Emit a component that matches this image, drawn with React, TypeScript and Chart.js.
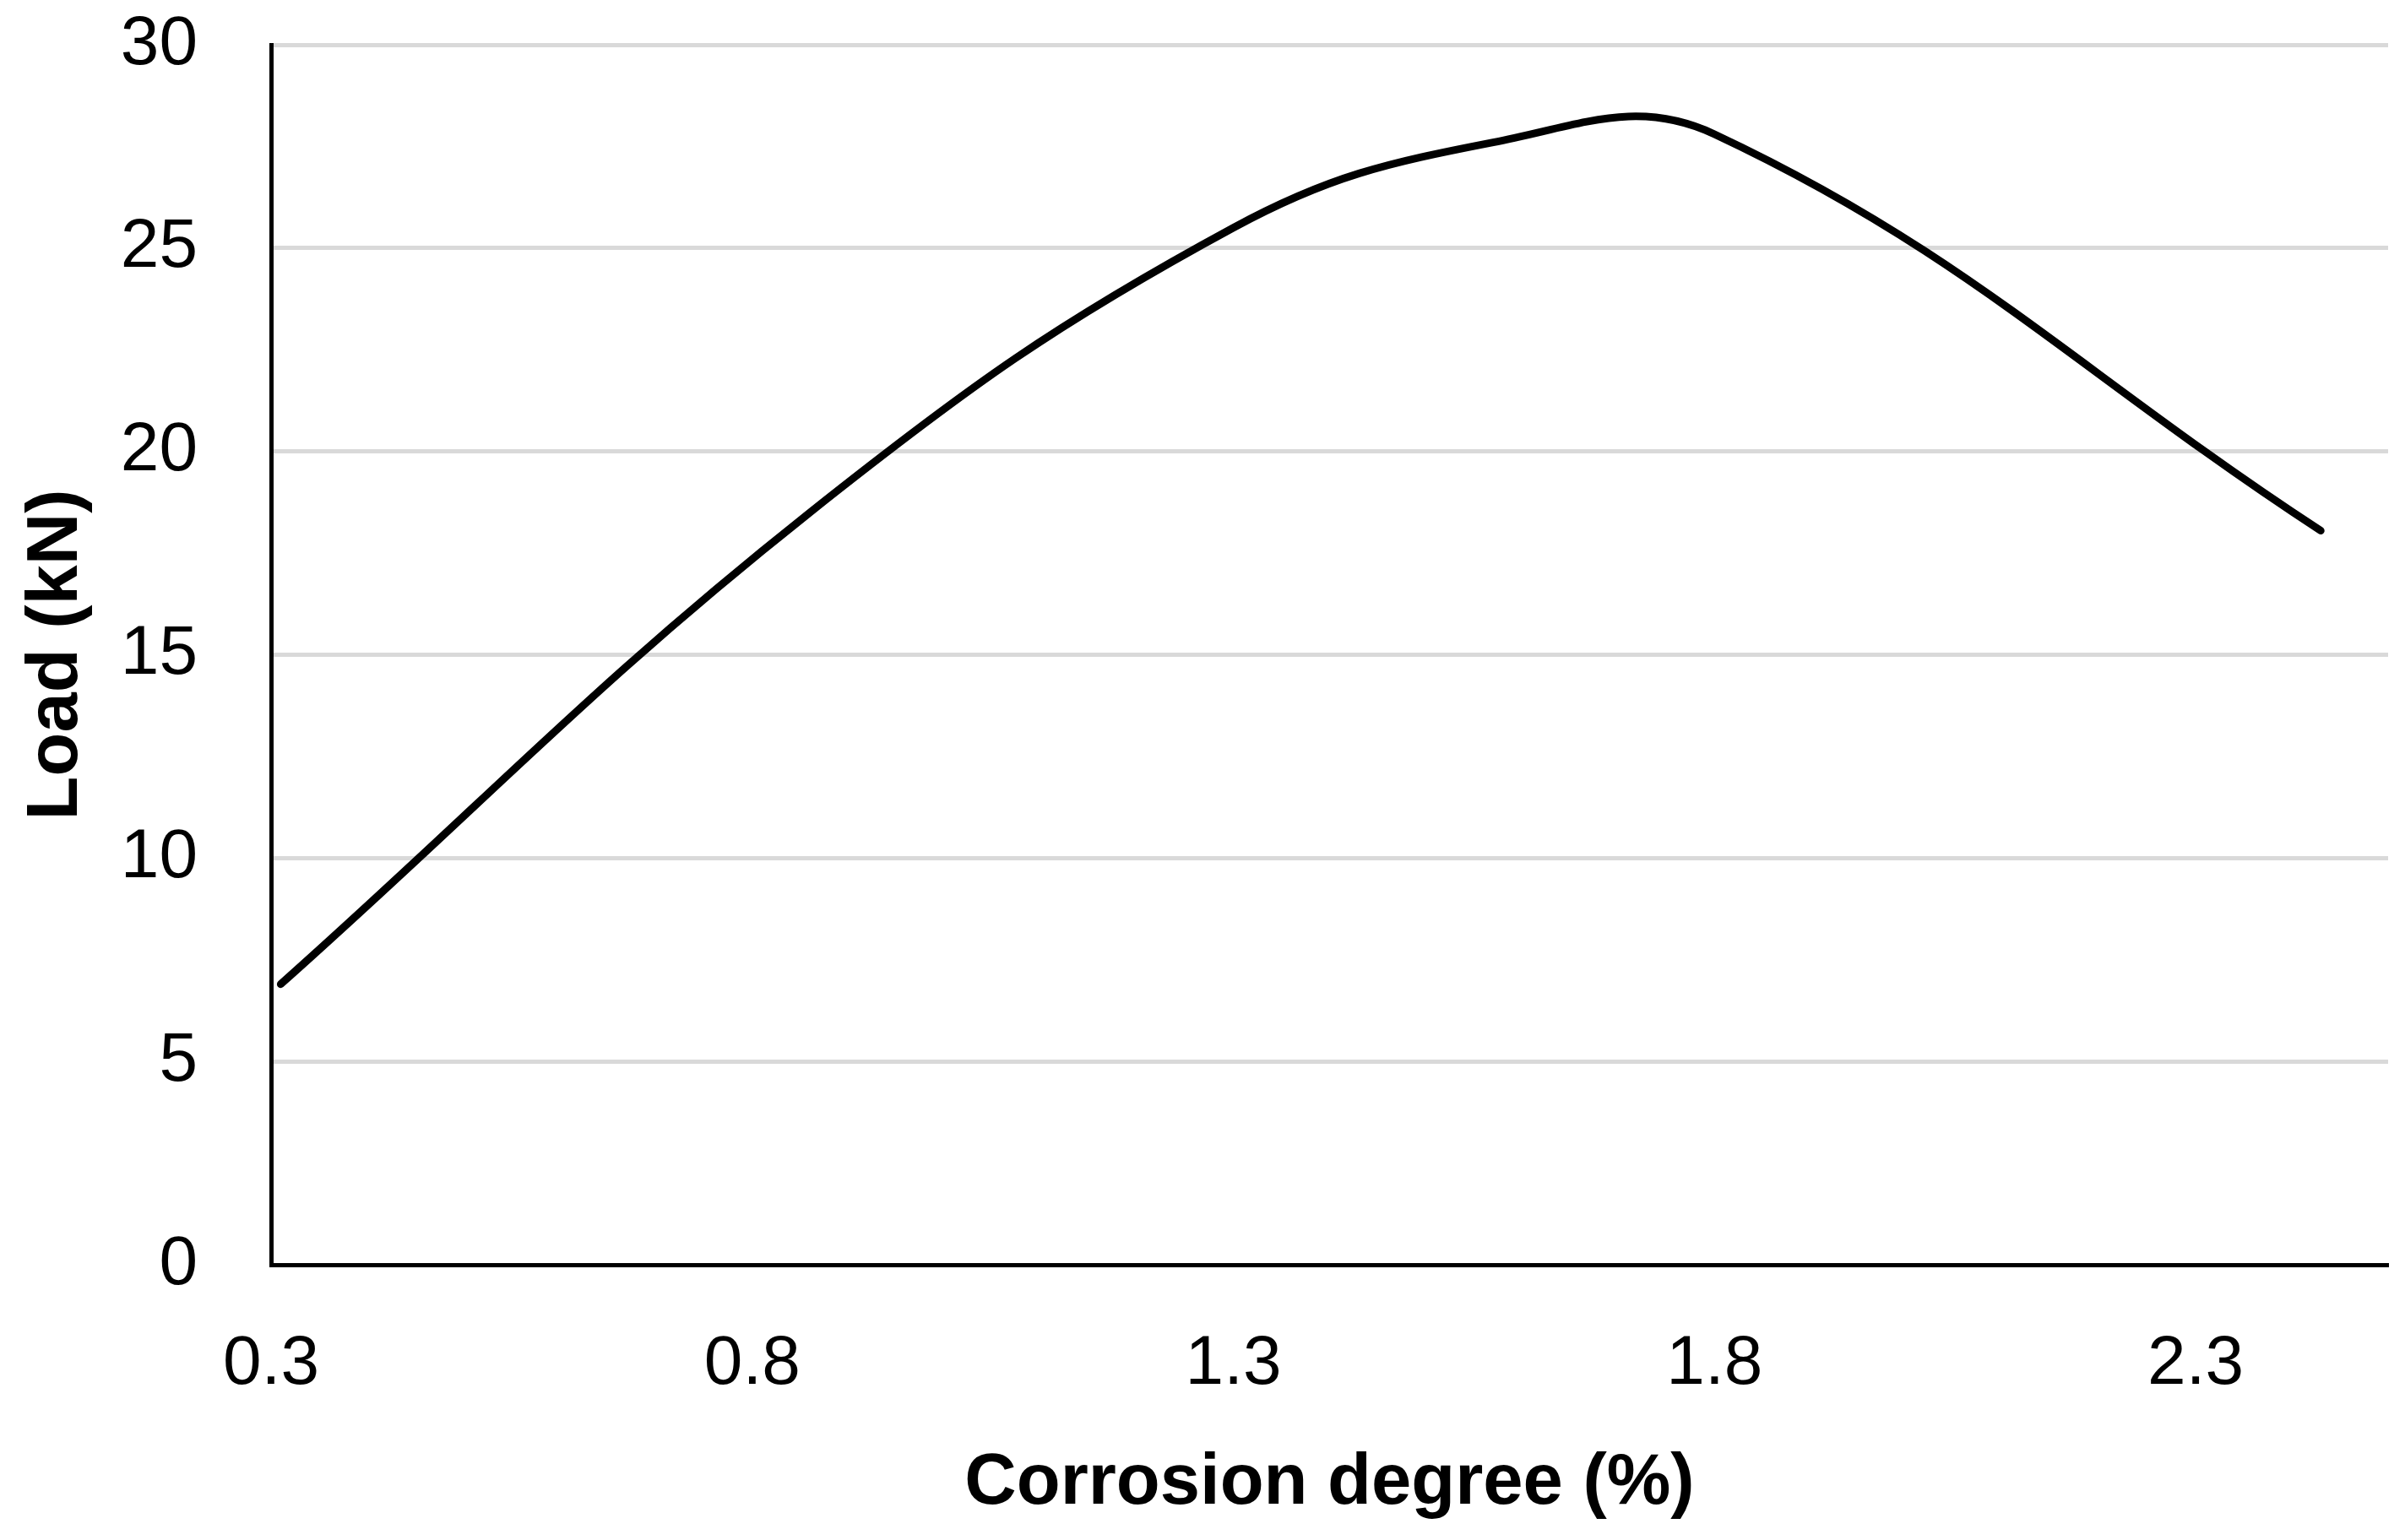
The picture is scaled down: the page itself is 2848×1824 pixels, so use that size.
import React, { useEffect, useRef } from "react";
import { Chart, registerables } from "chart.js";

Chart.register(...registerables);

// Data
const corrosionDegree = [0.31, 0.86, 1.3, 1.57, 1.8, 2.43];
const loadKN = [6.9, 18.5, 25.5, 27.6, 27.8, 18.05];

// Axis ticks and titles
const xTickValues = [0.3, 0.8, 1.3, 1.8, 2.3];
const yTickValues = [0, 5, 10, 15, 20, 25, 30];
const xAxisTitle = "Corrosion degree (%)";
const yAxisTitle = "Load (kN)";

const W = 2848;
const H = 1824;
const FONT = "'Liberation Sans', Arial, Helvetica, sans-serif";

export default function App() {
  const ref = useRef<HTMLCanvasElement>(null);

  useEffect(() => {
    document.body.style.margin = "0";
    const canvas = ref.current;
    if (!canvas) return;
    const chart = new Chart(canvas, {
      type: "line",
      data: {
        datasets: [
          {
            data: corrosionDegree.map((x, i) => ({ x, y: loadKN[i] })),
            borderColor: "#000000",
            backgroundColor: "#000000",
            borderWidth: 9,
            pointRadius: 0,
            tension: 0.4,
            fill: false,
            borderCapStyle: "round",
            borderJoinStyle: "round",
          } as any,
        ],
      },
      options: {
        responsive: false,
        maintainAspectRatio: false,
        animation: false,
        devicePixelRatio: 1,
        layout: { padding: { top: 53, right: 20, left: 0, bottom: 0 } },
        plugins: {
          legend: { display: false },
          tooltip: { enabled: false },
        },
        scales: {
          x: {
            type: "linear",
            min: 0.3,
            max: 2.5,
            afterBuildTicks: (s: any) => {
              s.ticks = xTickValues.map((v) => ({ value: v }));
            },
            afterFit: (s: any) => {
              s.height = 326;
              s.paddingLeft = 0;
              s.paddingRight = 0;
            },
            grid: { display: false, drawTicks: false },
            border: { display: true, color: "#000000", width: 5 },
            ticks: {
              autoSkip: false,
              maxRotation: 0,
              minRotation: 0,
              padding: 69,
              color: "#000000",
              font: { family: FONT, size: 82 },
              callback: (v: any) => Number(v).toFixed(1),
            },
            title: {
              display: true,
              text: xAxisTitle,
              color: "#000000",
              font: { family: FONT, size: 85, weight: "bold" },
              padding: { top: 0, bottom: 15 },
            },
          },
          y: {
            type: "linear",
            min: 0,
            max: 30,
            afterBuildTicks: (s: any) => {
              s.ticks = yTickValues.map((v) => ({ value: v }));
            },
            afterFit: (s: any) => {
              s.width = 321;
              s.paddingTop = 0;
              s.paddingBottom = 0;
            },
            grid: { color: "#d9d9d9", lineWidth: 5, drawTicks: false },
            border: { display: true, color: "#000000", width: 5 },
            ticks: {
              padding: 87,
              color: "#000000",
              font: { family: FONT, size: 82 },
              callback: (v: any) => String(v),
            },
            title: {
              display: true,
              text: yAxisTitle,
              color: "#000000",
              font: { family: FONT, size: 85, weight: "bold" },
              padding: { top: 17, bottom: 0 },
            },
          },
        },
      } as any,
    });
    return () => chart.destroy();
  }, []);

  return (
    <canvas
      ref={ref}
      width={W}
      height={H}
      style={{ display: "block", width: W + "px", height: H + "px" }}
    />
  );
}
